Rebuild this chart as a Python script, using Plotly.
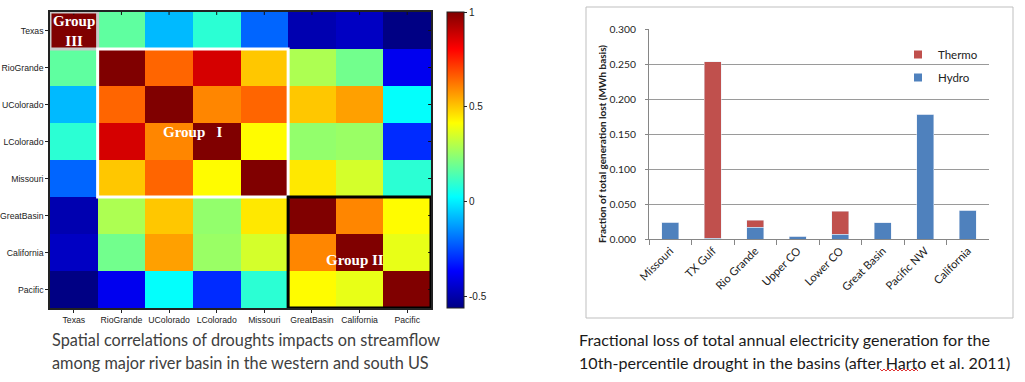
import plotly.graph_objects as go

W, H = 1025, 382

# ---------------- data ----------------
basins = ["Texas", "RioGrande", "UColorado", "LColorado", "Missouri",
          "GreatBasin", "California", "Pacific"]
corr = [
    [1.00, 0.17, -0.08, 0.09, -0.21, -0.49, -0.46, -0.56],
    [0.17, 1.00, 0.65, 0.87, 0.50, 0.29, 0.20, -0.39],
    [-0.08, 0.65, 1.00, 0.60, 0.65, 0.50, 0.56, 0.03],
    [0.09, 0.87, 0.60, 1.00, 0.42, 0.25, 0.26, -0.30],
    [-0.21, 0.50, 0.65, 0.42, 1.00, 0.45, 0.35, 0.09],
    [-0.49, 0.29, 0.50, 0.25, 0.45, 1.00, 0.60, 0.42],
    [-0.46, 0.20, 0.56, 0.26, 0.35, 0.60, 1.00, 0.38],
    [-0.56, -0.39, 0.03, -0.30, 0.09, 0.42, 0.38, 1.00],
]
cbar_ticks = [-0.5, 0, 0.5, 1]
cbar_ticktext = ["-0.5", "0", "0.5", "1"]

regions = ["Missouri", "TX Gulf", "Rio Grande", "Upper CO", "Lower CO",
           "Great Basin", "Pacific NW", "California"]
hydro = [0.024, 0.001, 0.017, 0.004, 0.007, 0.023, 0.178, 0.041]
thermo = [0.0, 0.252, 0.010, 0.0, 0.033, 0.0, 0.0, 0.0]
yticks = [0, 0.05, 0.10, 0.15, 0.20, 0.25, 0.30]
yticktext = ["0.000", "0.050", "0.100", "0.150", "0.200", "0.250", "0.300"]

HYDRO_C = "#4F81BD"
THERMO_C = "#C0504D"

# ---------------- helpers ----------------
def px(x):
    return x / W

def py(y):
    return 1 - y / H

jet = [[0.0, "rgb(0,0,132)"], [0.125, "rgb(0,0,255)"], [0.375, "rgb(0,255,255)"],
       [0.625, "rgb(255,255,0)"], [0.875, "rgb(255,0,0)"], [1.0, "rgb(128,0,0)"]]

fig = go.Figure()

idx = list(range(len(basins)))
fig.add_trace(go.Heatmap(
    z=corr, x=idx, y=idx, colorscale=jet, zmin=-0.56, zmax=1.0,
    xaxis="x", yaxis="y", hoverinfo="skip", showlegend=False,
    colorbar=dict(
        x=px(447), xanchor="left", xpad=0, ypad=0,
        y=py(12), yanchor="top", len=(308 - 12) / H, lenmode="fraction",
        thickness=17, thicknessmode="pixels",
        outlinewidth=1, outlinecolor="#222",
        tickvals=cbar_ticks, ticktext=cbar_ticktext, ticks="outside",
        ticklen=3, tickcolor="#222",
        tickfont=dict(family="Liberation Sans", size=10, color="#222"),
    ),
))

fig.add_trace(go.Bar(x=regions, y=hydro, name="Hydro", marker_color=HYDRO_C,
                     xaxis="x2", yaxis="y2", showlegend=False, hoverinfo="skip"))
fig.add_trace(go.Bar(x=regions, y=thermo, name="Thermo", marker_color=THERMO_C,
                     xaxis="x2", yaxis="y2", showlegend=False, hoverinfo="skip"))
# legend entries with small square keys
fig.add_trace(go.Scatter(x=[None], y=[None], mode="markers", name="Thermo",
                         marker=dict(symbol="square", size=8, color=THERMO_C),
                         xaxis="x2", yaxis="y2", legendgroup="t", legendrank=1))
fig.add_trace(go.Scatter(x=[None], y=[None], mode="markers", name="Hydro",
                         marker=dict(symbol="square", size=8, color=HYDRO_C),
                         xaxis="x2", yaxis="y2", legendgroup="h", legendrank=2))

tickfont_hm = dict(family="Liberation Sans", size=8.7, color="#222")
fig.update_layout(
    width=W, height=H, margin=dict(l=0, r=0, t=0, b=0, autoexpand=False),
    paper_bgcolor="white", plot_bgcolor="white",
    barmode="stack", bargap=0.6,
    showlegend=True,
    legend=dict(x=px(898), y=py(40), xanchor="left", yanchor="top",
                traceorder="grouped", tracegroupgap=4,
                font=dict(family="Lato", size=11.5, color="#222"),
                bgcolor="rgba(0,0,0,0)"),
    xaxis=dict(domain=[px(50), px(431)], range=[-0.5, 7.5], automargin=False,
               tickvals=idx, ticktext=basins, ticks="outside", ticklen=3,
               tickangle=0,
               tickcolor="#222", tickfont=tickfont_hm,
               showline=True, linecolor="#222", linewidth=1.5, mirror=True,
               showgrid=False, zeroline=False),
    yaxis=dict(domain=[py(308), py(12)], range=[7.5, -0.5], automargin=False,
               tickvals=idx, ticktext=basins, ticks="outside", ticklen=3,
               tickcolor="#222", tickfont=tickfont_hm,
               showline=True, linecolor="#222", linewidth=1.5, mirror=True,
               showgrid=False, zeroline=False),
    xaxis2=dict(domain=[px(649), px(989)], anchor="y2", automargin=False,
                tickson="boundaries", ticks="outside", ticklen=5,
                tickcolor="#868686", tickangle=-45,
                tickfont=dict(family="Lato", size=11.2, color="#222"),
                showline=True, linecolor="#868686", linewidth=1,
                showgrid=False, zeroline=False),
    yaxis2=dict(domain=[py(239), py(29)], anchor="x2", range=[0, 0.3],
                automargin=False,
                tickvals=yticks, ticktext=yticktext, ticks="outside",
                ticklen=3, tickcolor="#868686", ticklabelstandoff=7,
                tickfont=dict(family="Lato", size=10.3, color="#222"),
                showline=True, linecolor="#868686", linewidth=1,
                showgrid=True, gridcolor="#9a9a9a", gridwidth=1,
                zeroline=False),
)

shapes = []
# inner mirrored tick marks on the top and right edges of the heatmap
for i in idx:
    shapes.append(dict(type="line", xref="x", yref="y", x0=i, x1=i,
                       y0=-0.5, y1=-0.42, line=dict(color="#111", width=1)))
    shapes.append(dict(type="line", xref="x", yref="y", x0=7.44, x1=7.5,
                       y0=i, y1=i, line=dict(color="#111", width=1)))
shapes += [
    # Group III box
    dict(type="rect", xref="x", yref="y", x0=-0.5, x1=0.5, y0=-0.5, y1=0.5,
         line=dict(color="#c8c8c8", width=3)),
    # Group I box
    dict(type="rect", xref="x", yref="y", x0=0.5, x1=4.5, y0=0.5, y1=4.5,
         line=dict(color="white", width=3)),
    # Group II box
    dict(type="rect", xref="x", yref="y", x0=4.5, x1=7.5, y0=4.5, y1=7.5,
         line=dict(color="black", width=3)),
    # bar chart frame
    dict(type="rect", xref="paper", yref="paper", x0=px(586), x1=px(1013),
         y0=py(318), y1=py(7), line=dict(color="#bfbfbf", width=1)),
]

# red spell-check squiggle under "Harto"
sx0, sx1, sy = 880, 918, 370
pts = []
x = sx0
k = 0
while x <= sx1:
    yy = sy + (1.0 if k % 2 else -1.0)
    pts.append((x, yy))
    x += 2
    k += 1
path = "M " + " L ".join(f"{px(a):.5f},{py(b):.5f}" for a, b in pts)
shapes.append(dict(type="path", xref="paper", yref="paper", path=path,
                   line=dict(color="#e03030", width=1)))
fig.update_layout(shapes=shapes)

grp_font = dict(family="Liberation Serif", size=15, color="white")
ann = [
    dict(x=0, y=0, xref="x", yref="y", text="<b>Group<br>III</b>",
         showarrow=False, font=grp_font),
    dict(x=2.5, y=2.74, xref="x", yref="y", text="<b>Group\u00a0\u00a0 I</b>",
         showarrow=False, font=grp_font),
    dict(x=5.9, y=6.2, xref="x", yref="y", text="<b>Group II</b>",
         showarrow=False, font=grp_font),
    dict(x=px(602), y=py(144), xref="paper", yref="paper", textangle=-90,
         text="<b>Fraction of total generation lost (MWh basis)</b>",
         showarrow=False, font=dict(family="Lato", size=10, color="#222")),
]
cap_font_l = dict(family="Lato", size=16.3, color="#404040")
cap_font_r = dict(family="Lato", size=16.1, color="#1a1a1a")
for txt, yc in [("Spatial correlations of droughts impacts on streamflow", 339),
                ("among major river basin in the western and south US", 362)]:
    ann.append(dict(x=px(50), y=py(yc), xref="paper", yref="paper", text=txt,
                    xanchor="left", yanchor="middle", showarrow=False,
                    font=cap_font_l))
for txt, yc in [("Fractional loss of total annual electricity generation for the", 339),
                ("10th-percentile drought in the basins (after Harto et al. 2011)", 362)]:
    ann.append(dict(x=px(577), y=py(yc), xref="paper", yref="paper", text=txt,
                    xanchor="left", yanchor="middle", showarrow=False,
                    font=cap_font_r))
fig.update_layout(annotations=ann)

fig.write_html("out.html", config={"displayModeBar": False},
               post_script="document.body.style.margin='0';")
